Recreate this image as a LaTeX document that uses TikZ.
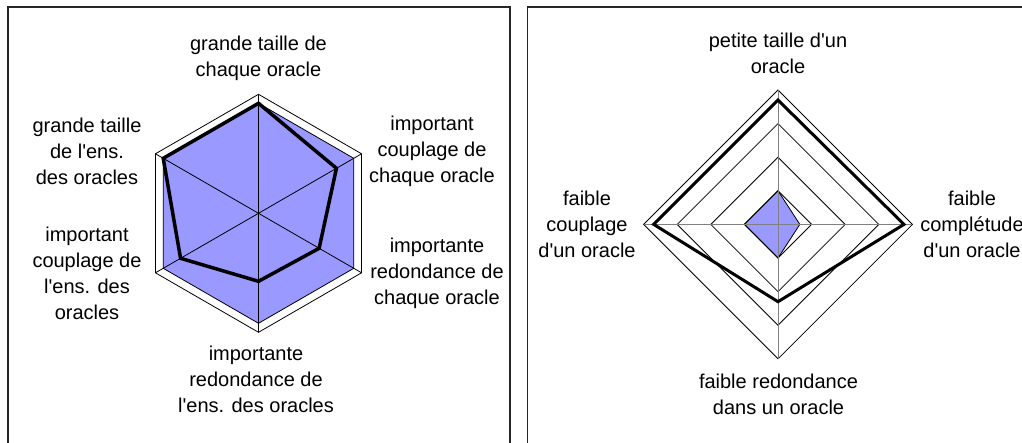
\documentclass[tikz,border=0pt]{standalone}
\usepackage{fontspec}
\setmainfont{Liberation Sans}[Ligatures=TeXOff]
\definecolor{radarfill}{HTML}{9999FF}
\definecolor{spokegray}{HTML}{808080}
\tikzset{
  lbl/.style={align=center, inner sep=0pt, font=\fontsize{20}{26}\selectfont},
  frame/.style={line width=1.3pt, draw=black!85},
  grid/.style={line width=0.8pt, draw=black},
  series/.style={line width=3.5pt, draw=black, line join=miter},
  area/.style={fill=radarfill, draw=black, line width=0.8pt},
}
\begin{document}
\begin{tikzpicture}[x=1pt,y=-1pt]
\useasboundingbox (0,0) rectangle (1022,442);
\fill[white] (0,0) rectangle (1022,442);
% frames
\draw[frame] (8,460) -- (8,7) -- (510,7) -- (510,460);
\draw[frame] (527.5,460) -- (527.5,7) -- (1040,7);

% left chart
\begin{scope}[shift={(258.5,213.3)}]
  \filldraw[area] (-90:110) -- (-30:110) -- (30:110) -- (90:110) -- (150:110) -- (210:110) -- cycle;
  \draw[grid] (-90:119) -- (-30:119) -- (30:119) -- (90:119) -- (150:119) -- (210:119) -- cycle;
  \foreach \a in {-90,-30,30,90,150,210} \draw[grid] (0,0) -- (\a:119);
  \draw[series] (-90:110) -- (-30:90) -- (30:70) -- (90:68) -- (150:90) -- (210:110) -- cycle;
\end{scope}

\node[lbl] (l1) at (258.5,58) {grande taille de\\chaque oracle};
\node[lbl] (l2) at (432,151.5) {important\\couplage de\\chaque oracle};
\node[lbl] (l3) at (437,273) {importante\\redondance de\\chaque oracle};
\node[lbl] (l4) at (256,379) {importante\\redondance de\\l'ens. des oracles};
\node[lbl] (l5) at (87,273.5) {important\\couplage de\\l'ens. des\\oracles};
\node[lbl] (l6) at (87,151.5) {grande taille\\de l'ens.\\des oracles};

% right chart
\begin{scope}[shift={(778,224.4)}]
  \def\u{33.6}
  \filldraw[area] (-90:\u) -- (0:0.65*\u) -- (90:\u) -- (180:\u) -- cycle;
  \foreach \k in {1,2,3,4}
    \draw[grid] (-90:\k*\u) -- (0:\k*\u) -- (90:\k*\u) -- (180:\k*\u) -- cycle;
  \foreach \a in {-90,0,90,180} \draw[line width=1pt, draw=spokegray] (0,0) -- (\a:4*\u);
  \draw[series, line width=3pt] (-90:3.7*\u) -- (0:3.75*\u) -- (90:2.3*\u) -- (180:3.7*\u) -- cycle;
\end{scope}

\node[lbl] (r1) at (778,53) {petite taille d'un\\oracle};
\node[lbl] (r2) at (972,224) {faible\\complétude\\d'un oracle};
\node[lbl] (r3) at (778.5,394) {faible redondance\\dans un oracle};
\node[lbl] (r4) at (587,224) {faible\\couplage\\d'un oracle};
\end{tikzpicture}
\end{document}
